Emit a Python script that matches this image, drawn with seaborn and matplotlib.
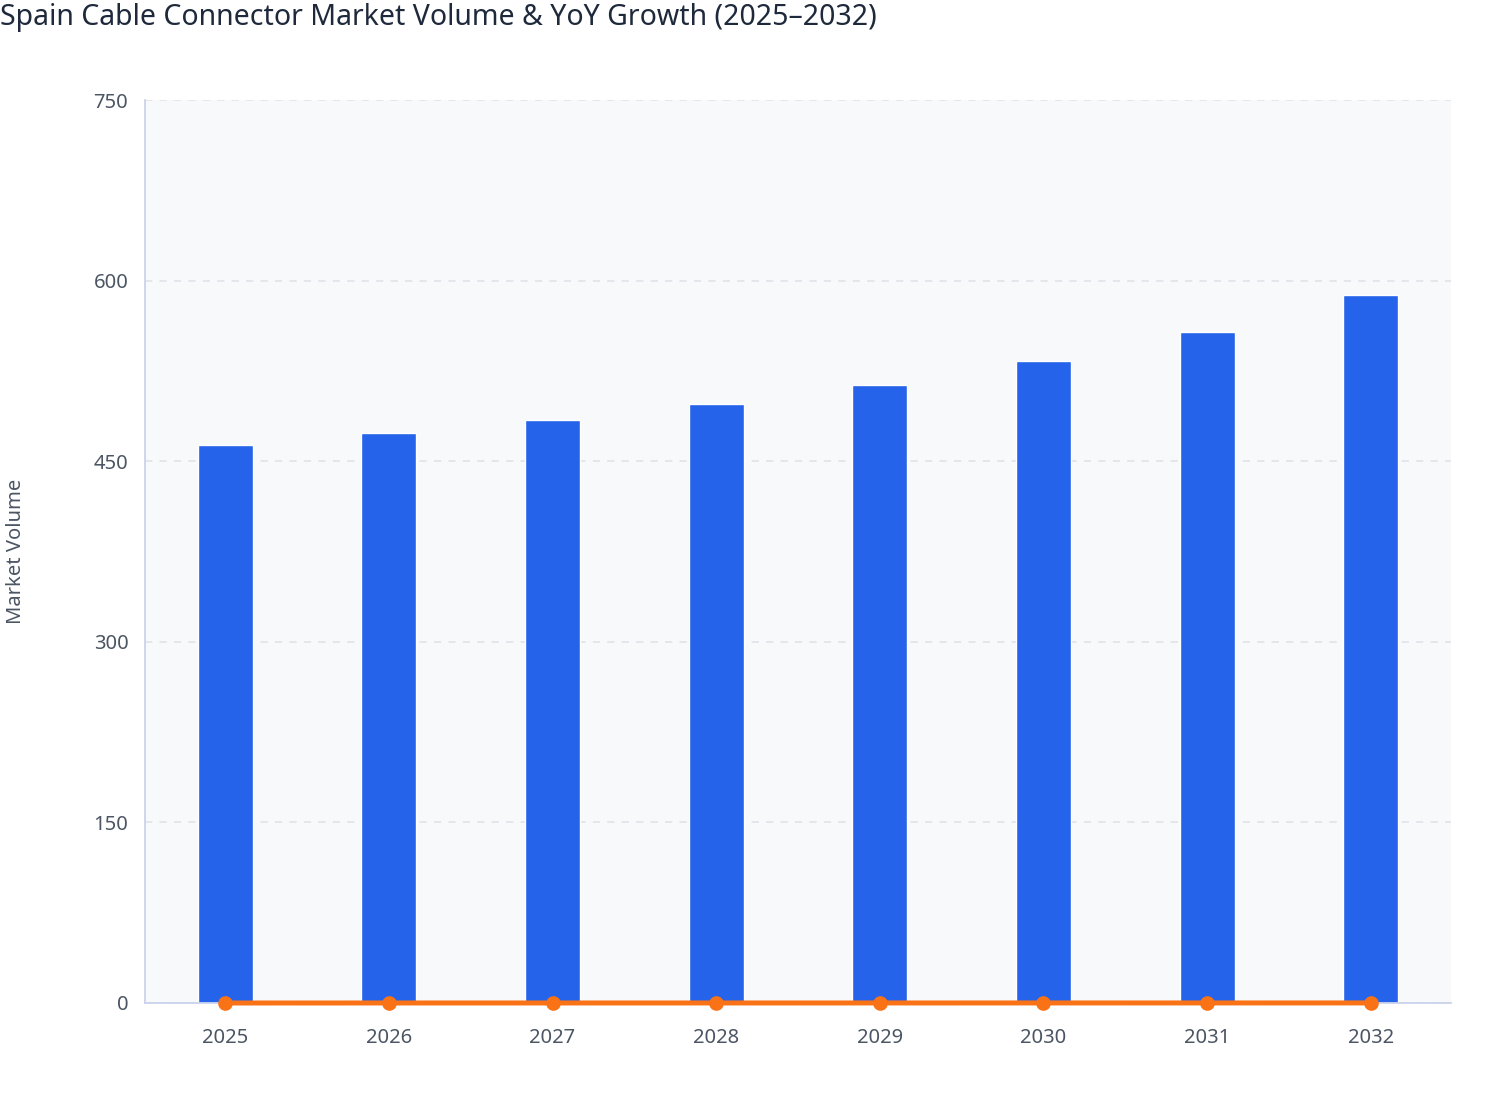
import pandas as pd
import matplotlib.pyplot as plt
import seaborn as sns

# data
years = ['2025', '2026', '2027', '2028', '2029', '2030', '2031', '2032']
volume = [463.5, 473.5, 484.5, 497.5, 513.5, 533, 557.5, 588]
yoy_growth = [0.0, 0.022, 0.023, 0.027, 0.032, 0.038, 0.046, 0.055]

df = pd.DataFrame({'Year': years, 'Volume': volume, 'YoY': yoy_growth})

sns.set_theme(style='white')
plt.rcParams['font.family'] = ['Noto Sans', 'DejaVu Sans']

fig = plt.figure(figsize=(15.08, 11.2), dpi=100)
ax = fig.add_axes([145 / 1508, 1 - 1003 / 1120, (1451 - 145) / 1508, (1003 - 100) / 1120])
ax.set_facecolor('#F8F9FB')

sns.barplot(data=df, x='Year', y='Volume', color='#2563EB', width=0.335,
            saturation=1, ax=ax, zorder=2)
sns.pointplot(data=df, x='Year', y='YoY', color='#F97316', markers='o',
              ax=ax, zorder=4)
for ln in ax.lines:
    ln.set_clip_on(False)
    ln.set_linewidth(3.6)
    ln.set_markersize(8.5)
    ln.set_zorder(5)

ax.set_xlim(-0.49, 7.49)
ax.set_ylim(0, 750)
ax.set_yticks([0, 150, 300, 450, 600, 750])
ax.yaxis.grid(True, color='#E2E5EA', linestyle=(0, (4, 4)), linewidth=1.3, zorder=0)
ax.set_axisbelow(True)

for s in ['top', 'right']:
    ax.spines[s].set_visible(False)
for s in ['left', 'bottom']:
    ax.spines[s].set_color('#C9D3EC')
    ax.spines[s].set_linewidth(1.3)

ax.tick_params(axis='both', colors='#C9D3EC', labelcolor='#4B5563',
               labelsize=14.5, length=8, width=1.3, direction='out')
ax.tick_params(axis='x', pad=10)
ax.tick_params(axis='y', pad=4)

ax.set_xlabel('')
ax.set_ylabel('')
fig.text(16 / 1508, 1 - 551 / 1120, 'Market Volume', rotation=90, fontsize=14.5,
         color='#4B5563', ha='center', va='center')

fig.text(0.0, 1 - 18 / 1120, 'Spain Cable Connector Market Volume & YoY Growth (2025\u20132032)',
         fontsize=20.5, fontweight='semibold', color='#1E293B', ha='left', va='center')

fig.savefig('out.png', dpi=100)
plt.close(fig)
